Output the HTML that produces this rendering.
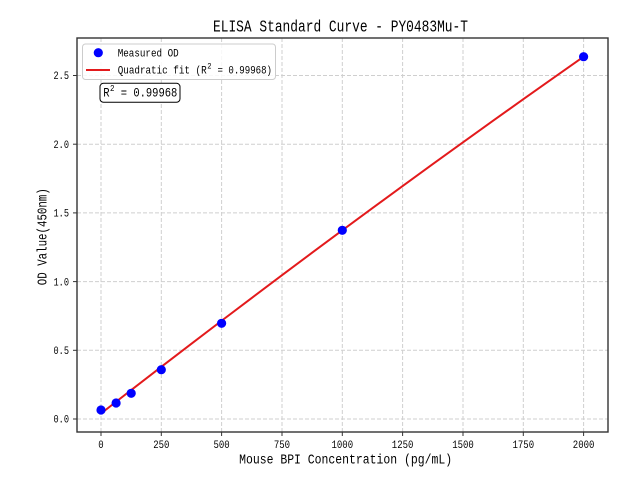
<!DOCTYPE html>
<html><head><meta charset="utf-8"><style>
html,body{margin:0;padding:0;background:#fff;}
svg{display:block;}
text{font-family:"Liberation Mono","WenQuanYi Zen Hei",monospace;fill:#000;}
</style></head><body>
<svg width="640" height="480" viewBox="0 0 640 480" xmlns="http://www.w3.org/2000/svg">
<rect x="0" y="0" width="640" height="480" fill="#fff"/>
<!-- grid -->
<g stroke="#cfcfcf" stroke-width="1" stroke-dasharray="4,2" fill="none">
<line x1="101" y1="38" x2="101" y2="432"/>
<line x1="161.3" y1="38" x2="161.3" y2="432"/>
<line x1="221.6" y1="38" x2="221.6" y2="432"/>
<line x1="282" y1="38" x2="282" y2="432"/>
<line x1="342.3" y1="38" x2="342.3" y2="432"/>
<line x1="402.6" y1="38" x2="402.6" y2="432"/>
<line x1="463" y1="38" x2="463" y2="432"/>
<line x1="523.3" y1="38" x2="523.3" y2="432"/>
<line x1="583.6" y1="38" x2="583.6" y2="432"/>
<line x1="77" y1="419" x2="608" y2="419"/>
<line x1="77" y1="350.3" x2="608" y2="350.3"/>
<line x1="77" y1="281.6" x2="608" y2="281.6"/>
<line x1="77" y1="212.9" x2="608" y2="212.9"/>
<line x1="77" y1="144.2" x2="608" y2="144.2"/>
<line x1="77" y1="75.5" x2="608" y2="75.5"/>
</g>
<!-- fit line -->
<path d="M101,413.5 L131.2,390.05 L161.3,366.83 L191.5,343.68 L221.6,320.75 L251.8,297.9 L282,275.2 L312.1,252.72 L342.3,230.33 L372.5,208.07 L402.6,186.05 L432.8,164.1 L463,142.3 L493.1,120.72 L523.3,99.22 L553.4,77.94 L583.6,56.74" fill="none" stroke="#e31a1c" stroke-width="2" stroke-linejoin="round"/>
<!-- points -->
<g fill="#0000ff">
<circle cx="101" cy="410" r="4.6"/>
<circle cx="116.1" cy="403" r="4.6"/>
<circle cx="131.2" cy="393.3" r="4.6"/>
<circle cx="161.3" cy="369.7" r="4.6"/>
<circle cx="221.6" cy="323.3" r="4.6"/>
<circle cx="342.3" cy="230.3" r="4.6"/>
<circle cx="583.6" cy="56.7" r="4.6"/>
</g>
<!-- spines -->
<rect x="77" y="38" width="531" height="394" fill="none" stroke="#333" stroke-width="1.4"/>
<!-- ticks -->
<g stroke="#333" stroke-width="1">
<line x1="101" y1="432" x2="101" y2="436"/>
<line x1="161.3" y1="432" x2="161.3" y2="436"/>
<line x1="221.6" y1="432" x2="221.6" y2="436"/>
<line x1="282" y1="432" x2="282" y2="436"/>
<line x1="342.3" y1="432" x2="342.3" y2="436"/>
<line x1="402.6" y1="432" x2="402.6" y2="436"/>
<line x1="463" y1="432" x2="463" y2="436"/>
<line x1="523.3" y1="432" x2="523.3" y2="436"/>
<line x1="583.6" y1="432" x2="583.6" y2="436"/>
<line x1="73" y1="419" x2="77" y2="419"/>
<line x1="73" y1="350.3" x2="77" y2="350.3"/>
<line x1="73" y1="281.6" x2="77" y2="281.6"/>
<line x1="73" y1="212.9" x2="77" y2="212.9"/>
<line x1="73" y1="144.2" x2="77" y2="144.2"/>
<line x1="73" y1="75.5" x2="77" y2="75.5"/>
</g>
<!-- x tick labels -->
<g font-size="11" text-anchor="middle">
<text x="101" y="448" textLength="5.4" lengthAdjust="spacingAndGlyphs">0</text>
<text x="161.3" y="448" textLength="16.2" lengthAdjust="spacingAndGlyphs">250</text>
<text x="221.6" y="448" textLength="16.2" lengthAdjust="spacingAndGlyphs">500</text>
<text x="282" y="448" textLength="16.2" lengthAdjust="spacingAndGlyphs">750</text>
<text x="342.3" y="448" textLength="21.6" lengthAdjust="spacingAndGlyphs">1000</text>
<text x="402.6" y="448" textLength="21.6" lengthAdjust="spacingAndGlyphs">1250</text>
<text x="463" y="448" textLength="21.6" lengthAdjust="spacingAndGlyphs">1500</text>
<text x="523.3" y="448" textLength="21.6" lengthAdjust="spacingAndGlyphs">1750</text>
<text x="583.6" y="448" textLength="21.6" lengthAdjust="spacingAndGlyphs">2000</text>
</g>
<!-- y tick labels -->
<g font-size="11" text-anchor="end">
<text x="69" y="422.7" textLength="15.5" lengthAdjust="spacingAndGlyphs">0.0</text>
<text x="69" y="354" textLength="15.5" lengthAdjust="spacingAndGlyphs">0.5</text>
<text x="69" y="285.3" textLength="15.5" lengthAdjust="spacingAndGlyphs">1.0</text>
<text x="69" y="216.6" textLength="15.5" lengthAdjust="spacingAndGlyphs">1.5</text>
<text x="69" y="147.9" textLength="15.5" lengthAdjust="spacingAndGlyphs">2.0</text>
<text x="69" y="79.2" textLength="15.5" lengthAdjust="spacingAndGlyphs">2.5</text>
</g>
<!-- title -->
<text x="340.5" y="31.7" font-size="16.5" text-anchor="middle" textLength="255" lengthAdjust="spacingAndGlyphs">ELISA Standard Curve - PY0483Mu-T</text>
<!-- x label -->
<text x="345.6" y="463.5" font-size="13.5" text-anchor="middle" textLength="213" lengthAdjust="spacingAndGlyphs">Mouse BPI Concentration (pg/mL)</text>
<!-- y label -->
<text transform="translate(46.5,236.7) rotate(-90)" x="0" y="0" font-size="13.5" text-anchor="middle" textLength="97" lengthAdjust="spacingAndGlyphs">OD Value(450nm)</text>
<!-- legend -->
<rect x="82.5" y="44" width="193" height="35.5" rx="3" ry="3" fill="#fff" fill-opacity="0.85" stroke="#cccccc" stroke-width="1"/>
<circle cx="98.3" cy="52.7" r="4.6" fill="#0000ff"/>
<line x1="86" y1="70" x2="110" y2="70" stroke="#e31a1c" stroke-width="2"/>
<text x="117.7" y="56.5" font-size="11" textLength="61" lengthAdjust="spacingAndGlyphs">Measured OD</text>
<text x="117.7" y="73.5" font-size="11" textLength="89" lengthAdjust="spacingAndGlyphs">Quadratic fit (R</text>
<text x="207.3" y="68.5" font-size="8" textLength="4.3" lengthAdjust="spacingAndGlyphs">2</text>
<text x="217.5" y="73.5" font-size="11" textLength="54.5" lengthAdjust="spacingAndGlyphs">= 0.99968)</text>
<!-- R2 box -->
<rect x="100" y="83.3" width="80" height="19" rx="3.5" ry="3.5" fill="#fff" stroke="#000" stroke-width="1"/>
<text x="103.3" y="96.7" font-size="12.5" textLength="6.3" lengthAdjust="spacingAndGlyphs">R</text>
<text x="110" y="91.2" font-size="9" textLength="4.5" lengthAdjust="spacingAndGlyphs">2</text>
<text x="120.8" y="96.7" font-size="12.5" textLength="56.5" lengthAdjust="spacingAndGlyphs">= 0.99968</text>
</svg>
</body></html>
